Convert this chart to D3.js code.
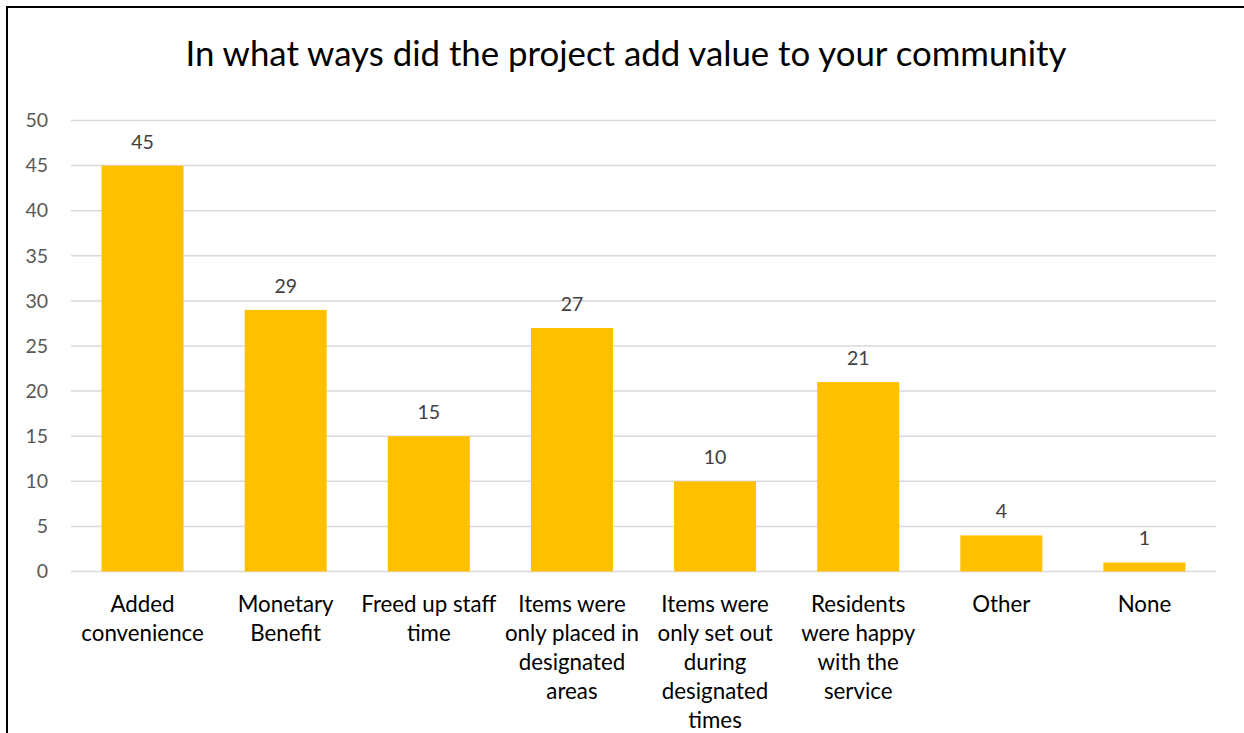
<!DOCTYPE html>
<html>
<head>
<meta charset="utf-8">
<script src="https://cdn.jsdelivr.net/npm/d3@7"></script>
<style>
  html, body { margin: 0; padding: 0; background: #fff; }
  svg { display: block; }
</style>
</head>
<body>
<svg id="chart" width="1244" height="733"></svg>
<script>
// Survey responses: ways the project added value to the community
const title = "In what ways did the project add value to your community";
const categories = [
  "Added\nconvenience",
  "Monetary\nBenefit",
  "Freed up staff\ntime",
  "Items were\nonly placed in\ndesignated\nareas",
  "Items were\nonly set out\nduring\ndesignated\ntimes",
  "Residents\nwere happy\nwith the\nservice",
  "Other",
  "None"
];
const values = [45, 29, 15, 27, 10, 21, 4, 1];
const yTicks = [0, 5, 10, 15, 20, 25, 30, 35, 40, 45, 50];

const W = 1244, H = 733;
const plot = { left: 71, right: 1216, top: 120.5, bottom: 571.5 };
const FONT = "Lato, 'Open Sans', sans-serif";

const svg = d3.select("#chart");

svg.append("rect").attr("width", W).attr("height", H).attr("fill", "#fff");

// Frame: top and left edges
svg.append("path")
  .attr("d", `M7,${H} L7,7 L${W},7`)
  .attr("fill", "none")
  .attr("stroke", "#000")
  .attr("stroke-width", 2);

const x = d3.scaleBand()
  .domain(categories)
  .range([plot.left, plot.right])
  .paddingInner(0.427)
  .paddingOuter(0.2135);

const y = d3.scaleLinear()
  .domain([0, 50])
  .range([plot.bottom, plot.top]);

// Horizontal gridlines
svg.append("g")
  .selectAll("line")
  .data(yTicks)
  .join("line")
  .attr("x1", plot.left)
  .attr("x2", plot.right)
  .attr("y1", d => y(d))
  .attr("y2", d => y(d))
  .attr("stroke", "#D9D9D9")
  .attr("stroke-width", 1.5);

// Y axis tick labels
const yAxis = d3.axisLeft(y).tickValues(yTicks).tickSize(0).tickPadding(0);
const gy = svg.append("g")
  .attr("transform", `translate(48,0)`)
  .call(yAxis);
gy.select(".domain").remove();
gy.selectAll("text")
  .attr("fill", "#595959")
  .style("font-family", FONT)
  .style("font-size", "19.5px");

// Bars
svg.append("g")
  .selectAll("rect")
  .data(values)
  .join("rect")
  .attr("x", (d, i) => x(categories[i]))
  .attr("width", x.bandwidth())
  .attr("y", d => y(d))
  .attr("height", d => y(0) - y(d))
  .attr("fill", "#FFC000");

// Value labels above bars
svg.append("g")
  .selectAll("text")
  .data(values)
  .join("text")
  .attr("x", (d, i) => x(categories[i]) + x.bandwidth() / 2)
  .attr("y", d => y(d) - 24.5)
  .attr("text-anchor", "middle")
  .attr("dominant-baseline", "central")
  .attr("fill", "#404040")
  .style("font-family", FONT)
  .style("font-size", "19.5px")
  .text(d => d);

// Category labels (multi-line)
const xl = svg.append("g");
categories.forEach(c => {
  const t = xl.append("text")
    .attr("x", x(c) + x.bandwidth() / 2)
    .attr("y", 603)
    .attr("text-anchor", "middle")
    .attr("fill", "#000")
    .style("font-family", FONT)
    .style("font-size", "22.3px");
  c.split("\n").forEach((line, j) => {
    t.append("tspan")
      .attr("x", x(c) + x.bandwidth() / 2)
      .attr("y", 603 + j * 29)
      .attr("dominant-baseline", "central")
      .text(line);
  });
});

// Title
svg.append("text")
  .attr("x", 626)
  .attr("y", 52)
  .attr("text-anchor", "middle")
  .attr("dominant-baseline", "central")
  .attr("fill", "#000")
  .style("font-family", FONT)
  .style("font-size", "34.8px")
  .text(title);
</script>
</body>
</html>
